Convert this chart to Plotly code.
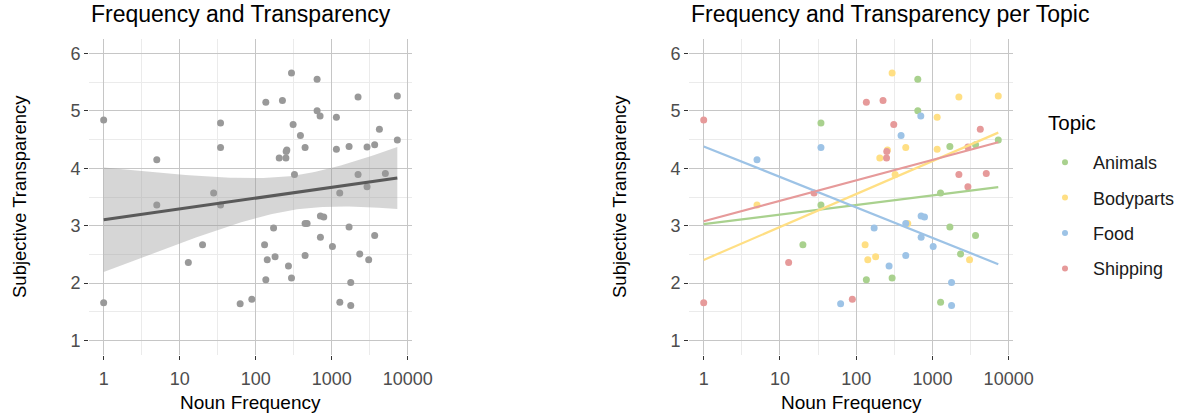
import numpy as np
import plotly.graph_objects as go

# ---------------- data ----------------
topics = ["Animals", "Bodyparts", "Food", "Shipping"]

animals_freq = [20, 34.5, 34.5, 136, 296, 643, 643, 1277, 1280, 1694, 1694, 2340, 3680, 3680, 7310]
animals_transp = [2.67, 4.79, 3.36, 2.06, 2.09, 5.55, 5.00, 3.57, 1.67, 4.38, 2.98, 2.51, 4.41, 2.83, 4.49]

bodyparts_freq = [5, 131, 142, 180, 204, 257, 296, 324, 447, 475, 1154, 1154, 2224, 3070, 7310]
bodyparts_transp = [3.36, 2.67, 2.41, 2.46, 4.18, 4.32, 5.66, 3.89, 4.36, 3.04, 4.89, 4.33, 5.24, 2.41, 5.26]

food_freq = [5, 34.5, 62.5, 172, 270, 388, 447, 447, 704, 711, 711, 787, 1023, 1782, 1782]
food_transp = [4.15, 4.36, 1.64, 2.96, 2.30, 4.57, 2.48, 3.04, 4.91, 2.80, 3.17, 3.15, 2.64, 2.01, 1.61]

shipping_freq = [1, 1, 13, 28, 89, 136, 225, 250, 252, 311, 2224, 2920, 2920, 4245, 5085]
shipping_transp = [4.84, 1.66, 2.36, 3.57, 1.72, 5.15, 5.18, 4.18, 4.29, 4.76, 3.89, 4.37, 3.68, 4.68, 3.91]

x_tick_vals = [1, 10, 100, 1000, 10000]
x_tick_text = ["1", "10", "100", "1000", "10000"]
y_tick_vals = [1, 2, 3, 4, 5, 6]

topic_colors = {"Animals": "#A9D18E", "Bodyparts": "#FFDF84", "Food": "#9DC3E6", "Shipping": "#E69A9A"}

series = {
    "Animals": (animals_freq, animals_transp),
    "Bodyparts": (bodyparts_freq, bodyparts_transp),
    "Food": (food_freq, food_transp),
    "Shipping": (shipping_freq, shipping_transp),
}

W, H = 1181, 418
FONT = "Liberation Sans, Arial, sans-serif"

all_freq = np.array(sum([series[t][0] for t in topics], []), dtype=float)
all_tr = np.array(sum([series[t][1] for t in topics], []), dtype=float)

fig = go.Figure()

# ---------------- left panel ----------------
fig.add_trace(go.Scatter(x=all_freq, y=all_tr, mode="markers",
                         marker=dict(color="#999999", size=7),
                         showlegend=False, xaxis="x", yaxis="y", hoverinfo="skip"))

lx = np.log10(all_freq)
b, a = np.polyfit(lx, all_tr, 1)
n = len(lx)
resid = all_tr - (a + b * lx)
s = np.sqrt((resid ** 2).sum() / (n - 2))
sxx = ((lx - lx.mean()) ** 2).sum()
tval = 2.0017  # t(0.975, df=58)
gx = np.linspace(lx.min(), lx.max(), 80)
fit = a + b * gx
se = s * np.sqrt(1.0 / n + (gx - lx.mean()) ** 2 / sxx)
upper = fit + tval * se
lower = fit - tval * se

fig.add_trace(go.Scatter(x=10 ** gx, y=lower, mode="lines", line=dict(width=0),
                         showlegend=False, xaxis="x", yaxis="y", hoverinfo="skip"))
fig.add_trace(go.Scatter(x=10 ** gx, y=upper, mode="lines", line=dict(width=0),
                         fill="tonexty", fillcolor="rgba(153,153,153,0.4)",
                         showlegend=False, xaxis="x", yaxis="y", hoverinfo="skip"))
fig.add_trace(go.Scatter(x=10 ** gx, y=fit, mode="lines", line=dict(color="#5A5A5A", width=3),
                         showlegend=False, xaxis="x", yaxis="y", hoverinfo="skip"))

# ---------------- right panel ----------------
for t in topics:
    fx, fy = series[t]
    fig.add_trace(go.Scatter(x=fx, y=fy, mode="markers",
                             marker=dict(color=topic_colors[t], size=7),
                             showlegend=False, xaxis="x2", yaxis="y2", hoverinfo="skip"))

full = np.array([lx.min(), lx.max()])
for t in topics:
    fx, fy = series[t]
    tl = np.log10(np.array(fx, dtype=float))
    bb, aa = np.polyfit(tl, np.array(fy, dtype=float), 1)
    fig.add_trace(go.Scatter(x=10 ** full, y=aa + bb * full, mode="lines",
                             line=dict(color=topic_colors[t], width=2.2),
                             showlegend=False, xaxis="x2", yaxis="y2", hoverinfo="skip"))

# legend entries
for t in topics:
    fig.add_trace(go.Scatter(x=[None], y=[None], mode="markers", name=t,
                             marker=dict(color=topic_colors[t], size=6),
                             legendgroup=t, showlegend=True, xaxis="x2", yaxis="y2"))

# ---------------- axes ----------------
xr = [-0.193, 4.057]
yr = [0.75, 6.25]
ytop, ybot = 39, 355
ydom = [1 - ybot / H, 1 - ytop / H]


def xaxis(dom, anchor):
    return dict(domain=dom, anchor=anchor, type="log", range=xr, autorange=False,
                automargin=False,
                tickmode="array", tickvals=x_tick_vals, ticktext=x_tick_text,
                ticks="outside", ticklen=4, tickwidth=1, tickcolor="#333333",
                ticklabelstandoff=3,
                tickfont=dict(size=18, color="#4D4D4D", family=FONT),
                showgrid=True, gridcolor="#C6C6C6", gridwidth=1.3,
                minor=dict(tickvals=[10 ** 0.5, 10 ** 1.5, 10 ** 2.5, 10 ** 3.5],
                           showgrid=True, gridcolor="#EBEBEB", gridwidth=1, ticks=""),
                zeroline=False, showline=False, fixedrange=True)


def yaxis(anchor):
    return dict(domain=ydom, anchor=anchor, range=yr, autorange=False,
                automargin=False,
                tickmode="array", tickvals=y_tick_vals,
                ticks="outside", ticklen=4, tickwidth=1, tickcolor="#333333",
                tickfont=dict(size=18, color="#4D4D4D", family=FONT),
                showgrid=True, gridcolor="#C6C6C6", gridwidth=1.3,
                minor=dict(tickvals=[1.5, 2.5, 3.5, 4.5, 5.5],
                           showgrid=True, gridcolor="#EBEBEB", gridwidth=1, ticks=""),
                zeroline=False, showline=False, fixedrange=True)


L1, R1 = 89, 412
L2, R2 = 689, 1013

fig.update_layout(
    width=W, height=H, autosize=False,
    margin=dict(l=0, r=0, t=0, b=0, pad=0, autoexpand=False),
    paper_bgcolor="white", plot_bgcolor="white",
    font=dict(family=FONT, color="black"),
    xaxis=xaxis([L1 / W, R1 / W], "y"),
    yaxis=yaxis("x"),
    xaxis2=xaxis([L2 / W, R2 / W], "y2"),
    yaxis2=yaxis("x2"),
    legend=dict(x=1037 / W, y=1 - 144 / H, xanchor="left", yanchor="top",
                font=dict(size=18, color="#1A1A1A", family=FONT),
                tracegroupgap=9, itemwidth=46, bgcolor="rgba(0,0,0,0)"),
)

annotations = []
for text, L in [("Frequency and Transparency", L1), ("Frequency and Transparency per Topic", L2)]:
    annotations.append(dict(text=text, x=L / W, y=1 - 14 / H, xref="paper", yref="paper",
                            xanchor="left", yanchor="middle", showarrow=False,
                            font=dict(size=23, color="black", family=FONT)))
for L, R in [(L1, R1), (L2, R2)]:
    annotations.append(dict(text="Noun Frequency", x=(L + R) / 2 / W, y=1 - 402 / H,
                            xref="paper", yref="paper", xanchor="center", yanchor="middle",
                            showarrow=False, font=dict(size=19, color="black", family=FONT)))
    annotations.append(dict(text="Subjective Transparency", x=(L - 70) / W, y=1 - 197 / H,
                            xref="paper", yref="paper", xanchor="center", yanchor="middle",
                            textangle=-90, showarrow=False,
                            font=dict(size=18.5, color="black", family=FONT)))
# legend title
annotations.append(dict(text="Topic", x=1046 / W, y=1 - 123 / H, xref="paper", yref="paper",
                        xanchor="left", yanchor="middle", showarrow=False,
                        font=dict(size=20.5, color="black", family=FONT)))
fig.update_layout(annotations=annotations)

fig.write_html(
    "out.html",
    config={"displayModeBar": False, "responsive": False},
    post_script=("document.documentElement.style.overflow='hidden';"
                 "document.body.style.overflow='hidden';"
                 "document.body.style.margin='0px';"),
)
